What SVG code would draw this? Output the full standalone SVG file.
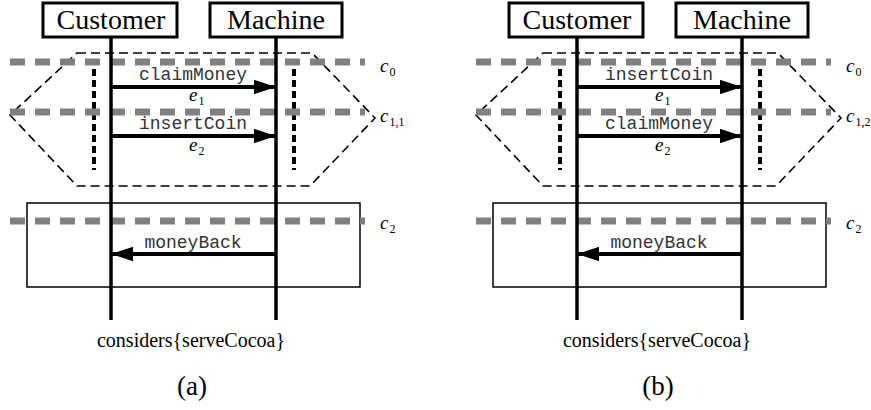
<svg xmlns="http://www.w3.org/2000/svg" width="871" height="410" viewBox="0 0 871 410">
  <style>
    .head { fill: #fff; stroke: #000; stroke-width: 3; }
    .headtxt { font-family: "Liberation Serif", "Times New Roman", serif; font-size: 28px; text-anchor: middle; }
    .life { stroke: #000; stroke-width: 3.5; fill: none; }
    .cut { stroke: #808080; stroke-width: 7; stroke-dasharray: 15 10; fill: none; }
    .hex { stroke: #000; stroke-width: 1.6; stroke-dasharray: 9 5; fill: none; }
    .dot { stroke: #000; stroke-width: 4; stroke-dasharray: 7 4; fill: none; }
    .frame { stroke: #000; stroke-width: 1.5; fill: none; }
    .msg { stroke: #000; stroke-width: 4; fill: none; marker-end: url(#arrow); }
    .mono { font-family: "Liberation Mono", "Courier New", monospace; font-size: 18px; text-anchor: middle; fill: #333; }
    .it { font-family: "Liberation Serif", "Times New Roman", serif; font-style: italic; font-size: 19px; }
    .sub { font-family: "Liberation Serif", "Times New Roman", serif; font-style: normal; font-size: 12px; }
    .cap { font-family: "Liberation Serif", "Times New Roman", serif; font-size: 20px; text-anchor: middle; }
    .lbl { font-family: "Liberation Serif", "Times New Roman", serif; font-size: 27px; text-anchor: middle; }
  </style>
  <defs>
    <marker id="arrow" markerWidth="5.5" markerHeight="3.6" refX="5.5" refY="1.8" orient="auto" markerUnits="strokeWidth">
      <path d="M0,0 L5.5,1.8 L0,3.6 Z" fill="#000"/>
    </marker>
    <!-- one scenario panel, without messages -->
    <g id="panel">
      <path class="hex" d="M77,53 H312 L375,118 L310,186 H77 L10,115 Z"/>
      <line class="dot" x1="94" y1="69" x2="94" y2="170"/>
      <line class="dot" x1="294" y1="69" x2="294" y2="170"/>
      <rect class="frame" x="27" y="203" width="333" height="84"/>
      <line class="cut" x1="10" y1="62" x2="365" y2="62"/>
      <line class="cut" x1="10" y1="112" x2="365" y2="112"/>
      <line class="cut" x1="10" y1="221" x2="365" y2="221"/>
      <line class="life" x1="111" y1="37" x2="111" y2="320"/>
      <line class="life" x1="276" y1="37" x2="276" y2="320"/>
      <text class="it" x="380" y="72">c<tspan class="sub" dx="1" dy="4">0</tspan></text>
      <text class="it" x="380" y="229">c<tspan class="sub" dx="1" dy="4">2</tspan></text>
      <text class="cap" x="191" y="347">considers{serveCocoa}</text>
    </g>
  </defs>

  <!-- panel (a) -->
  <g id="panel-a">
    <use href="#panel"/>
    <text class="it" x="380" y="122">c<tspan class="sub" dx="1" dy="4">1,1</tspan></text>
    <text class="lbl" x="192" y="395">(a)</text>
  </g>
  <g id="customer-a">
    <rect class="head" x="43" y="3" width="134" height="34"/>
    <text class="headtxt" x="111" y="29">Customer</text>
  </g>
  <g id="machine-a">
    <rect class="head" x="210" y="3" width="132" height="34"/>
    <text class="headtxt" x="276" y="29">Machine</text>
  </g>
  <g id="connectors-a">
    <line class="msg" x1="111" y1="87" x2="276" y2="87"/>
    <text class="mono" x="193" y="80">claimMoney</text>
    <text class="it" x="189" y="101">e<tspan class="sub" dx="1" dy="4">1</tspan></text>
    <line class="msg" x1="111" y1="136" x2="276" y2="136"/>
    <text class="mono" x="193" y="129">insertCoin</text>
    <text class="it" x="189" y="151">e<tspan class="sub" dx="1" dy="4">2</tspan></text>
    <line class="msg" x1="276" y1="254" x2="111" y2="254"/>
    <text class="mono" x="193" y="248">moneyBack</text>
  </g>

  <!-- panel (b) -->
  <g id="panel-b" transform="translate(466,0)">
    <use href="#panel"/>
    <text class="it" x="380" y="122">c<tspan class="sub" dx="1" dy="4">1,2</tspan></text>
    <text class="lbl" x="192" y="395">(b)</text>
  </g>
  <g id="customer-b" transform="translate(466,0)">
    <rect class="head" x="43" y="3" width="134" height="34"/>
    <text class="headtxt" x="111" y="29">Customer</text>
  </g>
  <g id="machine-b" transform="translate(466,0)">
    <rect class="head" x="210" y="3" width="132" height="34"/>
    <text class="headtxt" x="276" y="29">Machine</text>
  </g>
  <g id="connectors-b" transform="translate(466,0)">
    <line class="msg" x1="111" y1="87" x2="276" y2="87"/>
    <text class="mono" x="193" y="80">insertCoin</text>
    <text class="it" x="189" y="101">e<tspan class="sub" dx="1" dy="4">1</tspan></text>
    <line class="msg" x1="111" y1="136" x2="276" y2="136"/>
    <text class="mono" x="193" y="129">claimMoney</text>
    <text class="it" x="189" y="151">e<tspan class="sub" dx="1" dy="4">2</tspan></text>
    <line class="msg" x1="276" y1="254" x2="111" y2="254"/>
    <text class="mono" x="193" y="248">moneyBack</text>
  </g>
</svg>
